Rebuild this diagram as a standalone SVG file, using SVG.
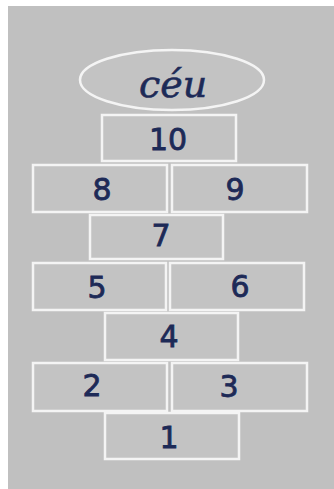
<svg xmlns="http://www.w3.org/2000/svg" width="334" height="489" viewBox="0 0 334 489">
<style>
.box{fill:#c3c3c3;stroke:#f4f4f4;stroke-width:2.5}
.num{font-family:"DejaVu Sans","Liberation Sans",sans-serif;font-size:30px;fill:#1d2a57;stroke:#1d2a57;stroke-width:0.8;text-anchor:middle}
.ceu{font-family:"DejaVu Serif","Liberation Serif",serif;font-style:italic;font-size:38px;fill:#1d2a57;stroke:#1d2a57;stroke-width:0.6;text-anchor:middle}
</style>
<rect x="0" y="0" width="334" height="489" fill="#ffffff"/>
<rect x="8" y="6" width="326" height="483" fill="#c0c0c0"/>
<g id="ceu"><ellipse cx="172" cy="80" rx="92" ry="30" class="box"/><text x="173" y="97" class="ceu">céu</text></g>
<g id="n10"><rect x="102" y="115" width="134" height="46" class="box"/><text x="168" y="150" class="num">10</text></g>
<g id="n8"><rect x="33" y="165" width="134" height="47" class="box"/><text x="102" y="200" class="num">8</text></g>
<g id="n9"><rect x="172" y="165" width="135" height="47" class="box"/><text x="235" y="200" class="num">9</text></g>
<g id="n7"><rect x="90" y="215" width="133" height="44" class="box"/><text x="161" y="246" class="num">7</text></g>
<g id="n5"><rect x="33" y="263" width="133" height="47" class="box"/><text x="97" y="298" class="num">5</text></g>
<g id="n6"><rect x="170" y="263" width="134" height="47" class="box"/><text x="240" y="297" class="num">6</text></g>
<g id="n4"><rect x="105" y="313" width="133" height="47" class="box"/><text x="169" y="347" class="num">4</text></g>
<g id="n2"><rect x="33" y="363" width="134" height="48" class="box"/><text x="92" y="396" class="num">2</text></g>
<g id="n3"><rect x="172" y="363" width="135" height="48" class="box"/><text x="229" y="397" class="num">3</text></g>
<g id="n1"><rect x="105" y="413" width="134" height="46" class="box"/><text x="169" y="448" class="num">1</text></g>
</svg>
